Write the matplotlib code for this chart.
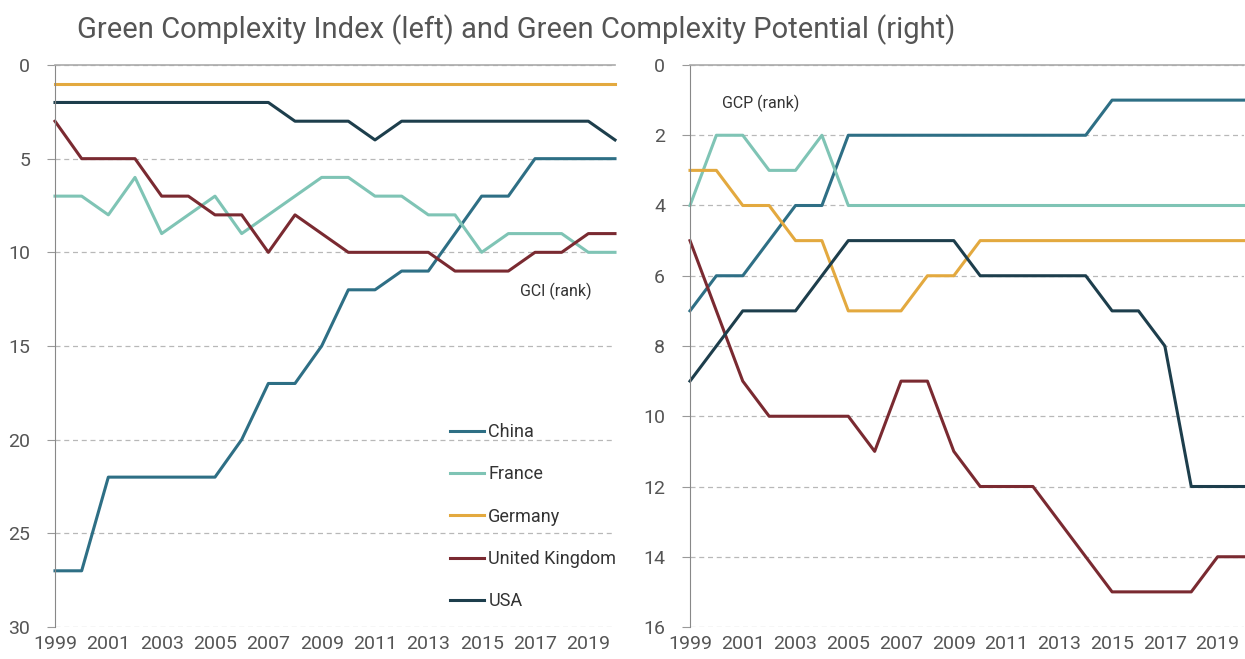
"""Green Complexity Index / Potential rank charts, two panels side by side."""

import matplotlib.pyplot as plt

years = list(range(1999, 2021))

# GCI rank (left panel)
gci_china = [27, 27, 22, 22, 22, 22, 22, 20, 17, 17, 15, 12, 12, 11, 11, 9, 7, 7, 5, 5, 5, 5]
gci_france = [7, 7, 8, 6, 9, 8, 7, 9, 8, 7, 6, 6, 7, 7, 8, 8, 10, 9, 9, 9, 10, 10]
gci_germany = [1] * 22
gci_uk = [3, 5, 5, 5, 7, 7, 8, 8, 10, 8, 9, 10, 10, 10, 10, 11, 11, 11, 10, 10, 9, 9]
gci_usa = [2, 2, 2, 2, 2, 2, 2, 2, 2, 3, 3, 3, 4, 3, 3, 3, 3, 3, 3, 3, 3, 4]

# GCP rank (right panel)
gcp_china = [7, 6, 6, 5, 4, 4, 2, 2, 2, 2, 2, 2, 2, 2, 2, 2, 1, 1, 1, 1, 1, 1]
gcp_france = [4, 2, 2, 3, 3, 2, 4, 4, 4, 4, 4, 4, 4, 4, 4, 4, 4, 4, 4, 4, 4, 4]
gcp_germany = [3, 3, 4, 4, 5, 5, 7, 7, 7, 6, 6, 5, 5, 5, 5, 5, 5, 5, 5, 5, 5, 5]
gcp_uk = [5, 7, 9, 10, 10, 10, 10, 11, 9, 9, 11, 12, 12, 12, 13, 14, 15, 15, 15, 15, 14, 14]
gcp_usa = [9, 8, 7, 7, 7, 6, 5, 5, 5, 5, 5, 6, 6, 6, 6, 6, 7, 7, 8, 12, 12, 12]

countries = ["China", "France", "Germany", "United Kingdom", "USA"]
colors = ["#2e6f85", "#7fc4b5", "#e3a93f", "#7a2a31", "#1d3e4c"]

xticks = list(range(1999, 2020, 2))
left_yticks = [0, 5, 10, 15, 20, 25, 30]
right_yticks = [0, 2, 4, 6, 8, 10, 12, 14, 16]

plt.rcParams["font.family"] = ["Roboto", "DejaVu Sans"]
TXT = "#555555"
GRID = "#b8b8b8"


def style_axis(ax, yticks):
    ax.set_xlim(1999, 2020)
    ax.set_ylim(yticks[-1], yticks[0])
    ax.set_xticks(xticks)
    ax.set_yticks(yticks)
    ax.tick_params(axis="x", length=0, labelsize=14, labelcolor=TXT, pad=6)
    ax.tick_params(axis="y", length=6, color="#999999", labelsize=14,
                   labelcolor=TXT, pad=12)
    for side in ("right", "bottom"):
        ax.spines[side].set_visible(False)
    ax.spines["top"].set_color("#aaaaaa")
    ax.spines["left"].set_color("#888888")
    ax.spines["top"].set_linewidth(1.2)
    ax.grid(axis="y", color=GRID, linestyle=(0, (4, 3)), linewidth=0.9)
    ax.set_axisbelow(True)


fig = plt.figure(figsize=(12.45, 6.59), dpi=100)
ax1 = fig.add_axes([55 / 1245, 32 / 659, 560 / 1245, 562 / 659])
ax2 = fig.add_axes([690 / 1245, 32 / 659, 554 / 1245, 562 / 659])

gci = [gci_china, gci_france, gci_germany, gci_uk, gci_usa]
gcp = [gcp_china, gcp_france, gcp_germany, gcp_uk, gcp_usa]

for name, col, vals in zip(countries, colors, gci):
    ax1.plot(years, vals, color=col, linewidth=2.2, label=name, clip_on=False)
for name, col, vals in zip(countries, colors, gcp):
    ax2.plot(years, vals, color=col, linewidth=2.2, label=name, clip_on=False)

style_axis(ax1, left_yticks)
style_axis(ax2, right_yticks)

ax1.text(2016.45, 12.1, "GCI (rank)", fontsize=11.5, color="#333333", va="center")
ax2.text(2000.2, 1.1, "GCP (rank)", fontsize=11.5, color="#333333", va="center")

leg = ax1.legend(loc="lower right", bbox_to_anchor=(1.025, 0.007), frameon=False,
                 fontsize=13, handlelength=1.9, handletextpad=0.25,
                 labelspacing=1.35, borderaxespad=0.3)
for t in leg.get_texts():
    t.set_color("#333333")

fig.text(77 / 1245, 1 - 30 / 659, "Green Complexity Index (left) and Green Complexity Potential (right)",
         fontsize=21, color=TXT, va="center", ha="left")

fig.savefig("out.png", dpi=100)
